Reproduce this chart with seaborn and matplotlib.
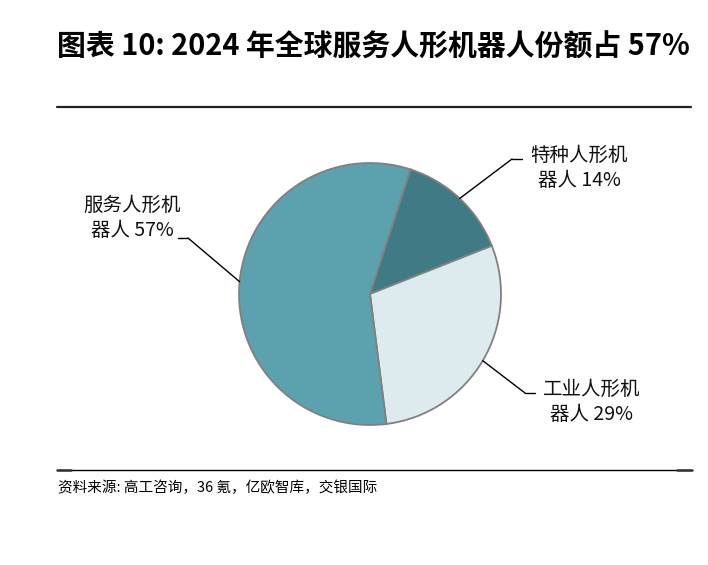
import numpy as np
import matplotlib
matplotlib.use('Agg')
import matplotlib.pyplot as plt
import seaborn as sns

# data
categories = ['特种人形机\n器人', '工业人形机\n器人', '服务人形机\n器人']
shares = [14, 29, 57]
colors = ['#407A85', '#DDEBEE', '#5BA2AE']

title = '图表 10: 2024 年全球服务人形机器人份额占 57%'
source = '资料来源: 高工咨询，36 氪，亿欧智库，交银国际'


def main():
    sns.set_style('white')
    plt.rcParams['font.family'] = ['Noto Sans CJK SC', 'DejaVu Sans']

    W, H = 708, 565
    fig = plt.figure(figsize=(W / 100, H / 100), dpi=100)

    def fx(px):
        return px / W

    def fy(py):
        return 1 - py / H

    # pie axes: centre (370, 294), radius 131 px
    cx, cy, r = 370, 294, 131
    ax = fig.add_axes([fx(cx - r), fy(cy + r), 2 * r / W, 2 * r / H])
    wedges, _ = ax.pie(shares, colors=colors, startangle=72, counterclock=False,
                       radius=1, wedgeprops={'edgecolor': '#808080', 'linewidth': 1.3})
    ax.set_xlim(-1, 1)
    ax.set_ylim(-1, 1)
    ax.set_aspect('equal')
    ax.axis('off')

    # leader lines + labels (text positions in figure px)
    label_pos = [(579, 168), (592, 402), (132, 218)]
    elbow = [(512, 159), (525, 393), (188, 238)]
    for w, cat, val, (lx, ly), (ex, ey) in zip(wedges, categories, shares, label_pos, elbow):
        ang = np.deg2rad((w.theta1 + w.theta2) / 2)
        x0, y0 = np.cos(ang), np.sin(ang)
        ax.annotate('', xy=(x0, y0), xycoords='data',
                    xytext=(fx(ex), fy(ey)), textcoords='figure fraction',
                    arrowprops=dict(arrowstyle='-', color='black', lw=1.0,
                                    shrinkA=0, shrinkB=0))
        hx = ex + 10 if ex > cx else ex - 10
        fig.add_artist(plt.Line2D([fx(ex), fx(hx)], [fy(ey), fy(ey)], color='black', lw=1.0))
        fig.text(fx(lx), fy(ly), f'{cat} {val}%', ha='center', va='center',
                 fontsize=14, linespacing=1.25, color='#111111')

    # title and rules
    fig.text(fx(57), fy(47), title, ha='left', va='center', fontsize=20.8,
             fontweight='bold', color='black')
    fig.add_artist(plt.Line2D([fx(57), fx(691)], [fy(107), fy(107)], color='#222222', lw=1.6))
    fig.add_artist(plt.Line2D([fx(57), fx(692)], [fy(470), fy(470)], color='black', lw=1.0))
    fig.add_artist(plt.Line2D([fx(57), fx(71)], [fy(470), fy(470)], color='#333333', lw=1.8))
    fig.add_artist(plt.Line2D([fx(677), fx(692)], [fy(470), fy(470)], color='#333333', lw=1.8))
    fig.text(fx(58), fy(488), source, ha='left', va='center', fontsize=10.5, color='black')

    fig.savefig('out.png', dpi=100)


if __name__ == '__main__':
    main()
